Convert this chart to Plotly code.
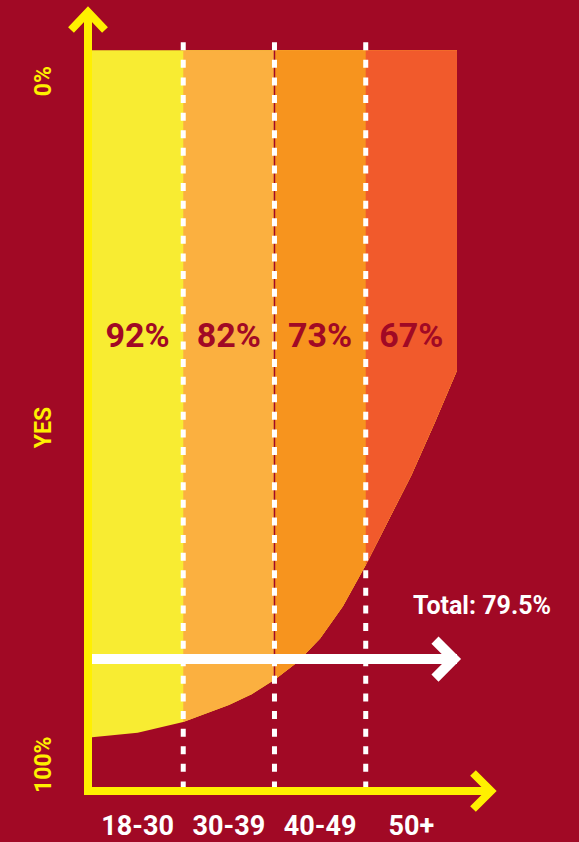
import plotly.graph_objects as go

# ---------------- data ----------------
categories = ["18-30", "30-39", "40-49", "50+"]
yes_pct = [92, 82, 73, 67]
total_pct = 79.5
y_labels = ["0%", "YES", "100%"]
# decorative lower boundary of the coloured area (band units, % depth)
curve_x = [0.0, 0.5, 1.0, 1.5, 1.75, 2.0, 2.25, 2.5, 2.75, 3.0, 3.25, 3.5, 3.75, 4.0]
curve_y = [89.7, 89.1, 87.7, 85.5, 84.1, 82.2, 79.9, 76.8, 72.6, 67.2, 61.4, 55.5, 48.8, 41.8]

# ---------------- style ----------------
BG = "#A10925"
YELLOW = "#FFF000"
WHITE = "#FFFFFF"
BAND_COLORS = ["#F8EC32", "#FBB040", "#F7941E", "#F15A2C"]
FONT = "Roboto, Liberation Sans, Arial, sans-serif"

n = len(categories)
Y_RANGE = [96.2, -5.0]
X_RANGE = [0, 4.373]

fig = go.Figure()

# coloured bands (each drawn from its left edge to the end, so later bands cover earlier)
for i in range(n):
    seg_x = [x for x in curve_x if x >= i]
    seg_y = [y for x, y in zip(curve_x, curve_y) if x >= i]
    px = [i, n] + seg_x[::-1] + [i]
    py = [0, 0] + seg_y[::-1] + [0]
    fig.add_trace(go.Scatter(x=px, y=py, mode="lines", fill="toself",
                             fillcolor=BAND_COLORS[i], line=dict(width=0),
                             hoverinfo="skip", showlegend=False))

# thin dark seam at the 40-49 boundary
fig.add_trace(go.Scatter(x=[2, 2], y=[0, curve_y[curve_x.index(2.0)]], mode="lines",
                         line=dict(color=BG, width=1.5), hoverinfo="skip", showlegend=False))

# dashed separators
for b in range(1, n):
    fig.add_trace(go.Scatter(x=[b, b], y=[-1.05, Y_RANGE[0]], mode="lines",
                             line=dict(color=WHITE, width=5, dash="8px,9.6px"),
                             hoverinfo="skip", showlegend=False))

# percentage labels
fig.add_trace(go.Scatter(x=[i + 0.5 for i in range(n)], y=[37.6] * n, mode="text",
                         text=[f"{v}%" for v in yes_pct],
                         textfont=dict(family=FONT, size=34, color=BG, weight="bold"),
                         hoverinfo="skip", showlegend=False, cliponaxis=False))

# total arrow shaft
fig.add_trace(go.Scatter(x=[0, n], y=[total_pct, total_pct], mode="lines",
                         line=dict(color=WHITE, width=10), hoverinfo="skip", showlegend=False))

shapes = [
    # white arrow head at end of total line
    dict(type="path", xref="x", yref="y", xsizemode="pixel", ysizemode="pixel",
         xanchor=n, yanchor=total_pct, path="M -22 19 L -3 0 L -22 -19",
         line=dict(color=WHITE, width=10), fillcolor="rgba(0,0,0,0)"),
    # y axis arrow head
    dict(type="path", xref="paper", yref="paper", xsizemode="pixel", ysizemode="pixel",
         xanchor=0, yanchor=1, path="M -21 -18 L -4 0 L 13 -18",
         line=dict(color=YELLOW, width=8), fillcolor="rgba(0,0,0,0)"),
    # x axis arrow head
    dict(type="path", xref="paper", yref="paper", xsizemode="pixel", ysizemode="pixel",
         xanchor=1, yanchor=0, path="M -18 14 L 0 -4 L -18 -22",
         line=dict(color=YELLOW, width=8), fillcolor="rgba(0,0,0,0)"),
]

annotations = [
    dict(text=f"Total: {total_pct}%", xref="x", yref="y", x=n, y=total_pct,
         xanchor="right", yanchor="middle", xshift=96, yshift=54, showarrow=False,
         font=dict(family=FONT, size=25, color=WHITE, weight="bold")),
]
ylab_font = dict(family=FONT, size=23, color=YELLOW, weight="bold")
# "0%" near the top of the scale, "YES" mid-scale, "100%" next to the x axis
annotations.append(dict(text=y_labels[0], xref="paper", yref="y", x=0, y=0,
                        xanchor="center", yanchor="middle", xshift=-49, yshift=-31,
                        textangle=-90, showarrow=False, font=ylab_font))
annotations.append(dict(text=y_labels[1], xref="paper", yref="y", x=0, y=50,
                        xanchor="center", yanchor="middle", xshift=-49, yshift=5,
                        textangle=-90, showarrow=False, font=ylab_font))
annotations.append(dict(text=y_labels[2], xref="paper", yref="paper", x=0, y=0,
                        xanchor="center", yanchor="middle", xshift=-49, yshift=22,
                        textangle=-90, showarrow=False, font=ylab_font))

fig.update_layout(
    width=579, height=842,
    margin=dict(l=92, r=88, t=12, b=55, autoexpand=False),
    paper_bgcolor=BG, plot_bgcolor=BG,
    showlegend=False, hovermode=False,
    shapes=shapes, annotations=annotations,
    xaxis=dict(range=X_RANGE, showline=True, linecolor=YELLOW, linewidth=8,
               showgrid=False, zeroline=False, ticks="", automargin=False,
               tickvals=[i + 0.5 for i in range(n)], ticktext=categories,
               ticklabelstandoff=8,
               tickfont=dict(family=FONT, size=27, color=WHITE, weight="bold"),
               fixedrange=True),
    yaxis=dict(range=Y_RANGE, showline=True, linecolor=YELLOW, linewidth=8,
               showgrid=False, zeroline=False, showticklabels=False, ticks="",
               automargin=False, fixedrange=True),
)

fig.write_html("out.html")
